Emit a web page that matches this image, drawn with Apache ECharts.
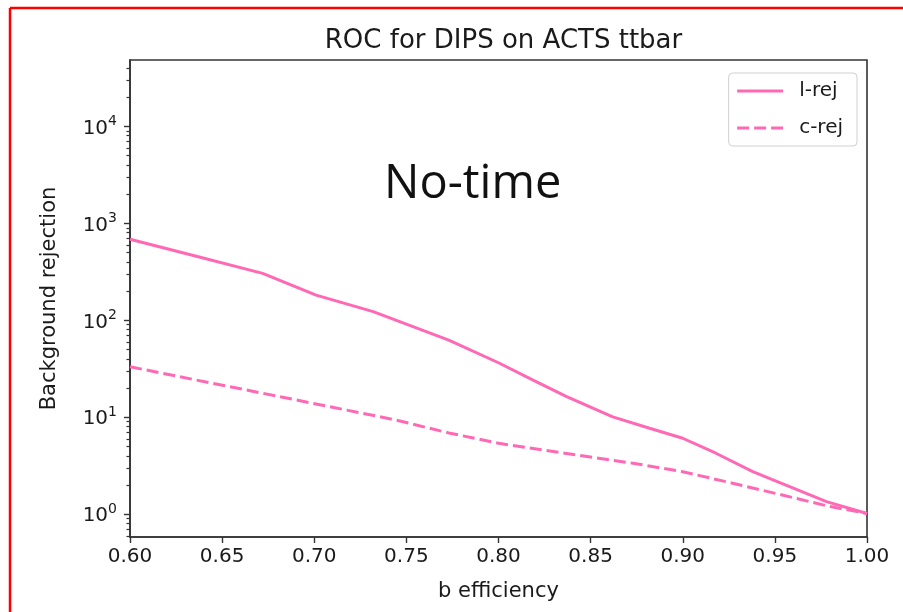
<!DOCTYPE html>
<html>
<head>
<meta charset="utf-8">
<script src="https://cdn.jsdelivr.net/npm/echarts@6/dist/echarts.min.js"></script>
<style>
html,body{margin:0;padding:0;background:#fff;}
#c{width:903px;height:612px;}
</style>
</head>
<body>
<div id="c"></div>
<script>
// ---- data ----
const L_EFF = [0.600, 0.636, 0.672, 0.701, 0.732, 0.773, 0.800, 0.8185, 0.837, 0.862, 0.882, 0.900, 0.918, 0.938, 0.958, 0.978, 1.000];
const L_REJ = [684, 457, 305, 182, 123, 62.6, 36.5, 24.3, 16.3, 10.1, 7.7, 6.08, 4.26, 2.75, 1.93, 1.35, 1.02];
const C_EFF = [0.600, 0.636, 0.672, 0.708, 0.744, 0.773, 0.800, 0.836, 0.873, 0.900, 0.927, 0.954, 0.980, 1.000];
const C_REJ = [33.2, 24.2, 17.7, 12.9, 9.4, 6.9, 5.4, 4.26, 3.36, 2.75, 2.09, 1.58, 1.20, 1.02];
const SERIES_NAMES = ['l-rej', 'c-rej'];
const X_TICKS = [0.60, 0.65, 0.70, 0.75, 0.80, 0.85, 0.90, 0.95, 1.00];
const Y_MAJOR = [1, 10, 100, 1000, 10000];
const Y_MINOR = [0.6, 0.7, 0.8, 0.9, 2, 3, 4, 5, 6, 7, 8, 9, 20, 30, 40, 50, 60, 70, 80, 90,
  200, 300, 400, 500, 600, 700, 800, 900, 2000, 3000, 4000, 5000, 6000, 7000, 8000, 9000,
  20000, 30000, 40000];
const Y_MIN = 0.583, Y_MAX = 48300;
const TITLE = 'ROC for DIPS on ACTS ttbar';
const X_NAME = 'b efficiency';
const Y_NAME = 'Background rejection';
const NOTE = 'No-time';

const PINK = '#ff69b4';
const AX = '#333333';
const FONT = 'DejaVu Sans';

const chart = echarts.init(document.getElementById('c'), null, {renderer: 'canvas'});
const pair = (xs, ys) => xs.map((x, i) => [x, ys[i]]);

const option = {
  animation: false,
  backgroundColor: '#fff',
  title: {
    text: TITLE, left: 498.5, top: 23, textAlign: 'center',
    textStyle: {fontFamily: FONT, fontSize: 26, fontWeight: 'normal', color: '#1a1a1a'}
  },
  legend: {
    orient: 'vertical', right: 46, top: 73,
    data: SERIES_NAMES,
    backgroundColor: '#fff', borderColor: '#d0d0d0', borderWidth: 1, borderRadius: 4,
    padding: [8, 14, 8, 7], itemWidth: 46, itemHeight: 14, itemGap: 17,
    itemStyle: {opacity: 0},
    lineStyle: {width: 3},
    textStyle: {fontFamily: FONT, fontSize: 20, color: '#1a1a1a', padding: [0, 0, 0, 11]}
  },
  grid: {left: 130, right: 36, top: 60, bottom: 75, show: true, borderColor: AX, borderWidth: 1.6, backgroundColor: 'transparent'},
  xAxis: {
    type: 'value', min: 0.6, max: 1.0, interval: 0.05,
    name: X_NAME, nameLocation: 'middle', nameGap: 44,
    nameTextStyle: {fontFamily: FONT, fontSize: 21, color: '#1a1a1a'},
    axisLine: {show: true, onZero: false, lineStyle: {color: AX, width: 1.6}},
    axisTick: {show: true, length: 6, inside: false, lineStyle: {color: AX, width: 1.4}},
    axisLabel: {fontFamily: FONT, fontSize: 20, color: '#1a1a1a', margin: 10,
      formatter: v => v.toFixed(2)},
    splitLine: {show: false}
  },
  yAxis: [
    {
      type: 'log', logBase: 10, min: Y_MIN, max: Y_MAX, position: 'left', offset: 0,
      name: Y_NAME, nameLocation: 'middle', nameGap: 70,
      nameTextStyle: {fontFamily: FONT, fontSize: 21, color: '#1a1a1a'},
      axisLine: {show: true, onZero: false, lineStyle: {color: AX, width: 1.6}},
      axisTick: {show: false},
      axisLabel: {
        margin: 13,
        formatter: function (v) {
          const e = Math.round(Math.log10(v));
          if (Y_MAJOR.indexOf(v) < 0 || Math.abs(Math.pow(10, e) - v) > 1e-9) return '';
          return '{b|10}{s|' + e + '}';
        },
        rich: {
          b: {fontFamily: FONT, fontSize: 20, color: '#1a1a1a', verticalAlign: 'bottom'},
          s: {fontFamily: FONT, fontSize: 14, color: '#1a1a1a', verticalAlign: 'bottom', padding: [0, 0, 10, 0]}
        }
      },
      splitLine: {show: false}
    },
    {
      type: 'value', min: Math.log10(Y_MIN), max: Math.log10(Y_MAX), position: 'left', offset: 0,
      axisLine: {show: false, onZero: false},
      axisTick: {show: true, length: 3.5, lineStyle: {color: AX, width: 1.2}, customValues: Y_MINOR.map(Math.log10)},
      axisLabel: {show: false},
      splitLine: {show: false}
    },
    {
      type: 'value', min: Math.log10(Y_MIN), max: Math.log10(Y_MAX), position: 'left', offset: 0,
      axisLine: {show: false, onZero: false},
      axisTick: {show: true, length: 6, lineStyle: {color: AX, width: 1.4}, customValues: Y_MAJOR.map(Math.log10)},
      axisLabel: {show: false},
      splitLine: {show: false}
    }
  ],
  series: [
    {
      name: SERIES_NAMES[0], type: 'line', xAxisIndex: 0, yAxisIndex: 0,
      data: pair(L_EFF, L_REJ), showSymbol: false, symbol: 'none', smooth: false,
      lineStyle: {color: PINK, width: 3, type: 'solid'}, itemStyle: {color: PINK}
    },
    {
      name: SERIES_NAMES[1], type: 'line', xAxisIndex: 0, yAxisIndex: 0,
      data: pair(C_EFF, C_REJ), showSymbol: false, symbol: 'none', smooth: false,
      lineStyle: {color: PINK, width: 3, type: [12, 5]}, itemStyle: {color: PINK}
    }
  ],
  graphic: [
    {type: 'text', left: 384, top: 161, style: {text: NOTE, fontFamily: 'Open Sans', fontSize: 47, fill: '#111'}},
    {type: 'line', shape: {x1: 10, y1: 8, x2: 903, y2: 8}, style: {stroke: '#ff0000', lineWidth: 2.5}},
    {type: 'line', shape: {x1: 10, y1: 8, x2: 10, y2: 612}, style: {stroke: '#ff0000', lineWidth: 2.5}}
  ]
};
chart.setOption(option);
</script>
</body>
</html>
